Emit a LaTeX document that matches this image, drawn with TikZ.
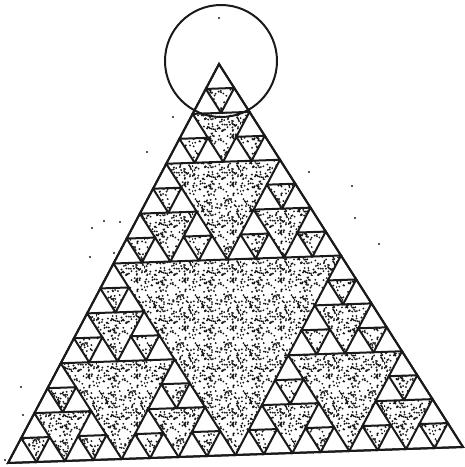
\documentclass[tikz,border=0pt]{standalone}
\usetikzlibrary{calc,patterns}
\definecolor{inkLine}{HTML}{1A1A1A}
\pgfmathsetseed{2718}
\pgfdeclarepatternformonly{stipple}{\pgfqpoint{0pt}{0pt}}{\pgfqpoint{48pt}{48pt}}{\pgfqpoint{48pt}{48pt}}{%
  \foreach \k in {1,...,210} {
    \pgfmathsetmacro{\ra}{48*rnd}
    \pgfmathsetmacro{\rb}{48*rnd}
    \pgfpathcircle{\pgfqpoint{\ra pt}{\rb pt}}{1.05pt}
  }
  \pgfusepath{fill}%
}
\tikzset{
  cellwhite/.style={fill=white, draw=inkLine, line width=2pt},
  stippled/.style={pattern=stipple, pattern color=inkLine},
  speck/.style={fill=inkLine},
}
\begin{document}
\begin{tikzpicture}[x=1pt, y=1pt]
  \useasboundingbox (0,0) rectangle (465,-467);
  \begin{scope}[shift={(8pt,-463pt)}, x={(28.4375pt,1pt)}, y={(13.1875pt,24.9375pt)}]
    % stipple over the whole triangle
    \fill[stippled] (0,0) -- (16,0) -- (0,16) -- cycle;
    % kept cells: i AND j = 0
    \foreach \i in {0,...,15} {
      \foreach \j in {0,...,15} {
        \pgfmathtruncatemacro{\s}{\i+\j}
        \pgfmathtruncatemacro{\b}{mod(\i,2)*mod(\j,2)+mod(floor(\i/2),2)*mod(floor(\j/2),2)+mod(floor(\i/4),2)*mod(floor(\j/4),2)+mod(floor(\i/8),2)*mod(floor(\j/8),2)}
        \ifnum\s<16 \ifnum\b=0
          \draw[cellwhite] (\i,\j) -- ++(1,0) -- ++(-1,1) -- cycle;
        \fi\fi
      }
    }
    \draw[draw=inkLine, line width=2pt] (0,0) -- (16,0) -- (0,16) -- cycle;
  \end{scope}
  \draw[draw=inkLine, line width=2pt] (221,-61) circle[radius=56];
  % stray specks
  \foreach \x/\y in {219/18, 173/117, 147/152, 104/221, 92/228, 120/222, 114/253, 90/257,
                     309/172, 352/186, 355/218, 379/244, 23/415, 5/460, 21/387} {
    \fill[speck] (\x,-\y) circle[radius=1.2pt];
  }
\end{tikzpicture}
\end{document}
